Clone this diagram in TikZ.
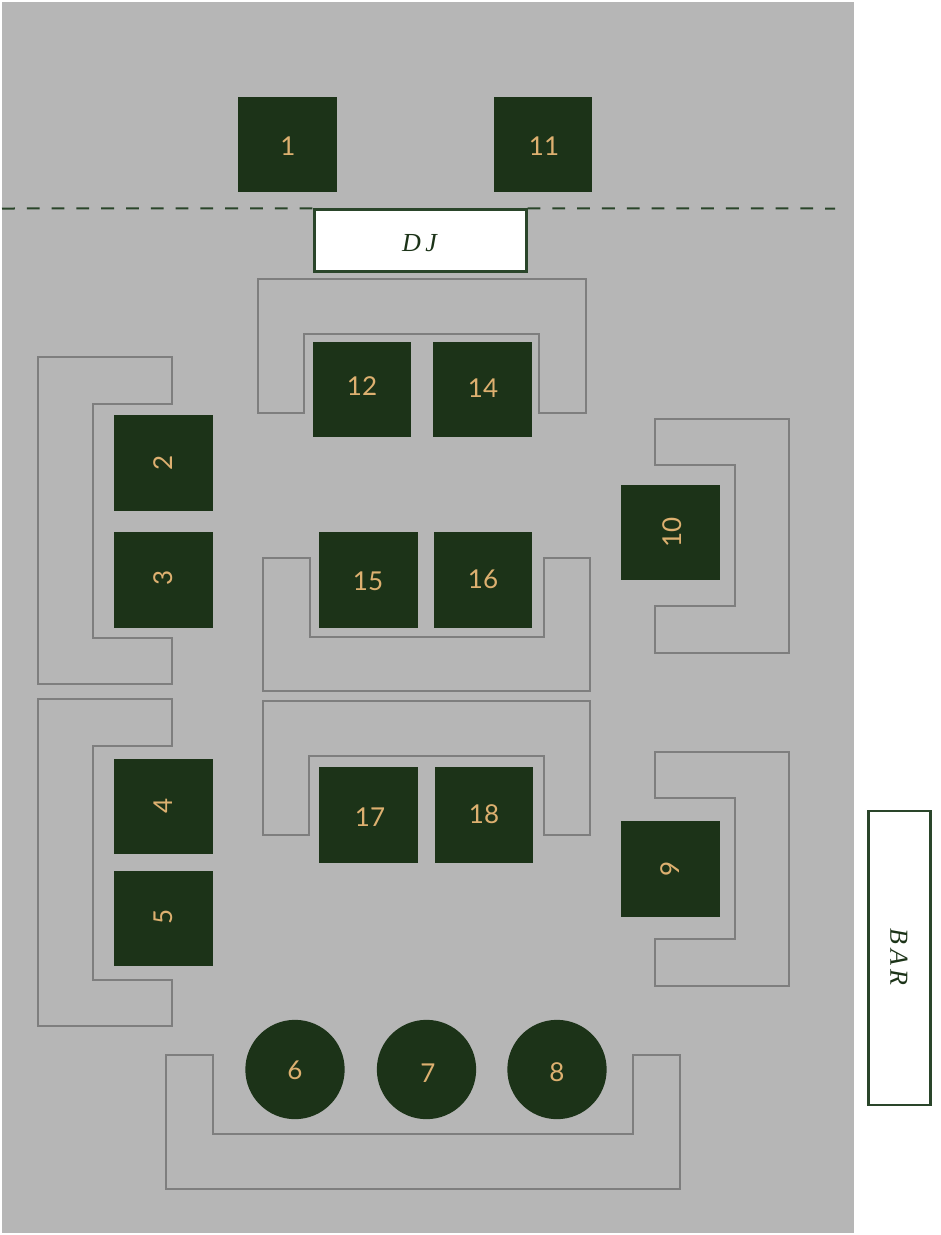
\documentclass[tikz,border=0pt]{standalone}
\usepackage{fontspec}
\setmainfont{Lato}
\newfontfamily\serifit[LetterSpace=14]{Liberation Serif}
\definecolor{bggray}{HTML}{B6B6B6}
\definecolor{darkgreen}{HTML}{1C3318}
\definecolor{zoneline}{HTML}{2A452A}
\definecolor{gold}{HTML}{DDB070}
\definecolor{couchline}{HTML}{7E7E7E}
\tikzset{
  x=0.75pt,y=-0.75pt,
  tablebox/.style={rectangle,fill=darkgreen,inner sep=0pt,minimum width=74pt,minimum height=71.6pt},
  tablecirc/.style={circle,fill=darkgreen,inner sep=0pt,minimum size=74.5pt},
  num/.style={text=gold,inner sep=0pt,font=\fontsize{19.5}{19.5}\selectfont},
  couch/.style={draw=couchline,line width=1.1pt,line join=miter},
  zone/.style={draw=zoneline,line width=1.6pt,fill=white,rectangle,inner sep=0pt},
  zonetext/.style={text=darkgreen,inner sep=0pt,font=\fontsize{19.5}{19.5}\serifit\itshape},
  divider/.style={draw=zoneline,line width=1.5pt,dash pattern=on 9.6pt off 9pt}
}
\begin{document}
\begin{tikzpicture}
\useasboundingbox (0,0) rectangle (940,1235);
\fill[white] (0,0) rectangle (940,1235);
\fill[bggray] (2,2) rectangle (854,1233);

% zones and divider
\node[zone,minimum width=159pt,minimum height=46.5pt] (dj) at (420.5,240.5) {};
\node[zonetext] (djlabel) at (419.5,243) {D\,J};
\node[zone,minimum width=46.5pt,minimum height=221pt] (bar) at (899.5,958) {};
\node[zonetext,rotate=-90] (barlabel) at (899,957) {B\,A\,R};
\coordinate (divL) at (2,208.5);
\coordinate (divR) at (835,208.5);
\draw[divider] (divL) -- (dj.north west);
\draw[divider] (dj.north east) -- (divR);

% seating
\draw[couch] (258,279)--(586,279)--(586,413)--(539,413)--(539,334)--(304,334)--(304,413)--(258,413)--cycle;
\draw[couch] (172,357)--(38,357)--(38,684)--(172,684)--(172,638)--(93,638)--(93,404)--(172,404)--cycle;
\draw[couch] (172,699)--(38,699)--(38,1026)--(172,1026)--(172,980)--(93,980)--(93,746)--(172,746)--cycle;
\draw[couch] (263,558)--(263,691)--(590,691)--(590,558)--(544,558)--(544,637)--(310,637)--(310,558)--cycle;
\draw[couch] (263,701)--(590,701)--(590,835)--(544,835)--(544,756)--(309,756)--(309,835)--(263,835)--cycle;
\draw[couch] (655,419)--(789,419)--(789,653)--(655,653)--(655,606)--(735,606)--(735,465)--(655,465)--cycle;
\draw[couch] (655,752)--(789,752)--(789,986)--(655,986)--(655,939)--(735,939)--(735,798)--(655,798)--cycle;
\draw[couch] (166,1055)--(213,1055)--(213,1134)--(633,1134)--(633,1055)--(680,1055)--(680,1189)--(166,1189)--cycle;

% tables
\node[tablebox] (t1) at (287.5,144.5) {};
\node[tablebox] (t11) at (543,144.5) {};
\node[tablebox] (t12) at (362,389.5) {};
\node[tablebox] (t14) at (482.5,389.5) {};
\node[tablebox] (t2) at (163.5,463) {};
\node[tablebox] (t3) at (163.5,580) {};
\node[tablebox] (t4) at (163.5,806.5) {};
\node[tablebox] (t5) at (163.5,918.5) {};
\node[tablebox] (t15) at (368.5,580) {};
\node[tablebox] (t16) at (483,580) {};
\node[tablebox] (t17) at (368.5,815) {};
\node[tablebox] (t18) at (484,815) {};
\node[tablebox] (t10) at (670.5,532.5) {};
\node[tablebox] (t9) at (670.5,869) {};
\node[tablecirc] (t6) at (295,1069.5) {};
\node[tablecirc] (t7) at (426.5,1069.5) {};
\node[tablecirc] (t8) at (557,1069.5) {};

% numbers
\node[num] (n1) at (288,146) {1};
\node[num] (n11) at (544,146) {11};
\node[num] (n12) at (362,386) {12};
\node[num] (n14) at (483,388) {14};
\node[num,rotate=90] (n2) at (163,463) {2};
\node[num,rotate=90] (n3) at (163,578) {3};
\node[num,rotate=90] (n4) at (163,806) {4};
\node[num,rotate=90] (n5) at (163,917) {5};
\node[num] (n15) at (368,581) {15};
\node[num] (n16) at (483,579) {16};
\node[num] (n17) at (370,817) {17};
\node[num] (n18) at (484,814) {18};
\node[num,rotate=90] (n10) at (672,532) {10};
\node[num,rotate=90] (n9) at (670,869) {9};
\node[num] (n6) at (295,1070) {6};
\node[num] (n7) at (428,1073) {7};
\node[num] (n8) at (557,1072) {8};
\end{tikzpicture}
\end{document}
